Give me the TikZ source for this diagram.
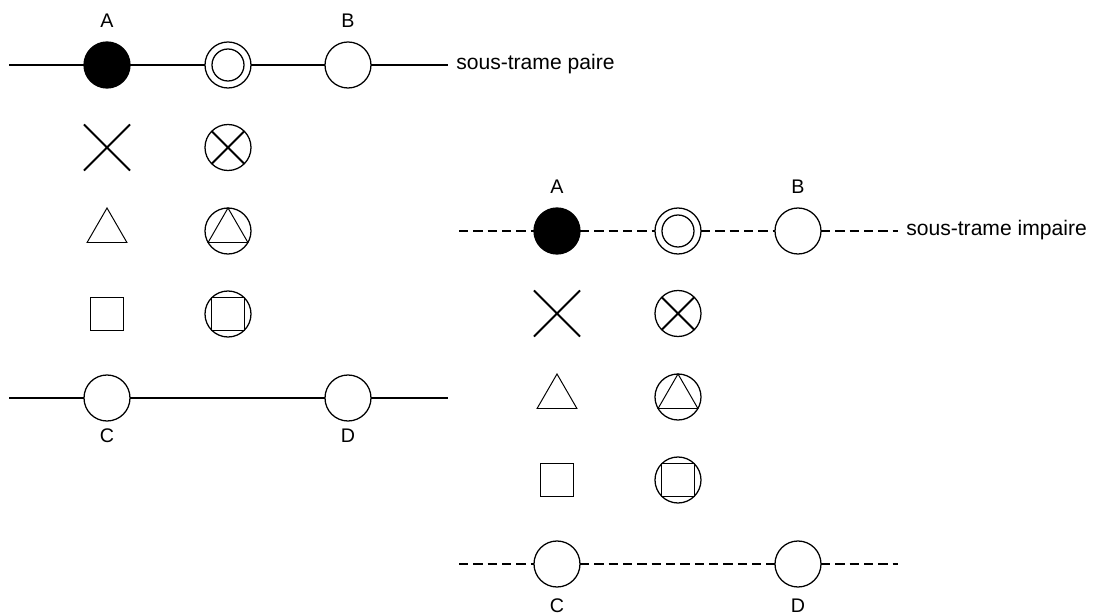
\documentclass[tikz,border=0pt]{standalone}
\usepackage{fontspec}
\setmainfont{Liberation Sans}

\tikzset{
  trait/.style={line width=1.3pt},
  tirets/.style={dash pattern=on 6.6pt off 3.6pt},
  poste/.style={circle,draw,line width=0.9pt,minimum size=1.15cm,inner sep=0pt,outer sep=0pt,fill=white},
  vide/.style={circle,minimum size=1.15cm,inner sep=0pt,outer sep=0pt},
  cadre/.style={rectangle,minimum size=1.15cm,inner sep=0pt,outer sep=0pt},
  lettre/.style={font=\fontsize{14}{16}\selectfont,inner sep=0pt},
  legende/.style={font=\fontsize{15}{18}\selectfont,anchor=base west,inner sep=0pt}
}

% une sous-trame : #1 prefixe, #2 decalage, #3 style du trait, #4 legende, #5 ordonnee de C et D
\newcommand{\sousTrame}[5]{%
  \begin{scope}[shift={#2}]
    % ligne du haut
    \coordinate (#1g) at (9,65);
    \coordinate (#1d) at (448,65);
    \node[poste,fill=black] (#1A) at (107,65) {};
    \node[poste] (#1M) at (228,65) {};
    \draw[line width=0.9pt] (#1M.center) circle[radius=0.4cm];
    \node[poste] (#1B) at (348,65) {};
    \draw[trait,#3] (#1g) -- (#1A) (#1A) -- (#1M) (#1M) -- (#1B) (#1B) -- (#1d);
    \node[legende] (#1leg) at (456,70) {#4};
    \node[lettre] (#1la) at (107,21) {A};
    \node[lettre] (#1lb) at (348,21) {B};
    % croix
    \node[cadre] (#1x) at (107,147.5) {};
    \draw[trait] (#1x.north west) -- (#1x.south east) (#1x.north east) -- (#1x.south west);
    \node[poste] (#1cx) at (228,147.5) {};
    \draw[trait] (#1cx.north west) -- (#1cx.south east) (#1cx.north east) -- (#1cx.south west);
    % triangles
    \node[vide] (#1tr) at (107,231) {};
    \draw[line width=0.7pt] (#1tr.90) -- (#1tr.210) -- (#1tr.330) -- cycle;
    \node[poste] (#1ctr) at (228,231) {};
    \draw[line width=0.7pt] (#1ctr.90) -- (#1ctr.210) -- (#1ctr.330) -- cycle;
    % carres
    \node[vide] (#1ca) at (107,314) {};
    \draw[line width=1pt] (#1ca.45) -- (#1ca.135) -- (#1ca.225) -- (#1ca.315) -- cycle;
    \node[poste] (#1cca) at (228,314) {};
    \draw[line width=1pt] (#1cca.45) -- (#1cca.135) -- (#1cca.225) -- (#1cca.315) -- cycle;
    % ligne du bas
    \coordinate (#1g2) at (9,398);
    \coordinate (#1d2) at (448,398);
    \node[poste] (#1C) at (107,398) {};
    \node[poste] (#1D) at (348,398) {};
    \draw[trait,#3] (#1g2) -- (#1C) (#1C) -- (#1D) (#1D) -- (#1d2);
    \node[lettre] (#1lc) at (107,#5) {C};
    \node[lettre] (#1ld) at (348,#5) {D};
  \end{scope}%
}

\begin{document}
\begin{tikzpicture}[x=0.025cm,y=-0.025cm]
  \useasboundingbox (0,0) rectangle (1093,615);
  \sousTrame{p}{(0,0)}{solid}{sous-trame paire}{436}
  \sousTrame{i}{(450,166)}{tirets}{sous-trame impaire}{440}
\end{tikzpicture}
\end{document}
